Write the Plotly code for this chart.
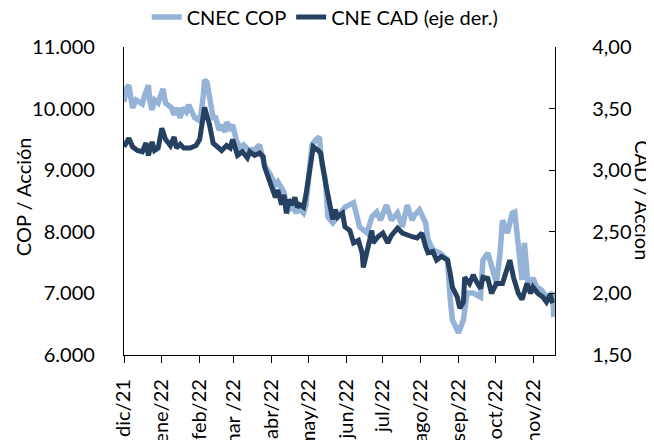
import plotly.graph_objects as go

# CNEC COP series (COP / acción)
cop_dates = [
    "2021-12-01", "2021-12-03", "2021-12-05", "2021-12-07", "2021-12-08", "2021-12-11", "2021-12-13",
    "2021-12-16", "2021-12-18", "2021-12-21", "2021-12-22", "2021-12-24", "2021-12-26", "2021-12-29",
    "2021-12-31", "2022-01-02", "2022-01-04", "2022-01-07", "2022-01-09", "2022-01-11", "2022-01-13",
    "2022-01-16", "2022-01-18", "2022-01-21", "2022-01-23", "2022-01-26", "2022-01-28", "2022-01-31",
    "2022-02-02", "2022-02-04", "2022-02-05", "2022-02-07", "2022-02-09", "2022-02-10", "2022-02-12",
    "2022-02-14", "2022-02-17", "2022-02-19", "2022-02-22", "2022-02-23", "2022-02-26", "2022-02-28",
    "2022-03-03", "2022-03-06", "2022-03-09", "2022-03-13", "2022-03-18", "2022-03-22", "2022-03-26",
    "2022-03-31", "2022-04-04", "2022-04-06", "2022-04-09", "2022-04-11", "2022-04-13", "2022-04-15",
    "2022-04-18", "2022-04-21", "2022-04-23", "2022-04-25", "2022-04-27", "2022-04-29", "2022-05-02",
    "2022-05-04", "2022-05-07", "2022-05-10", "2022-05-12", "2022-05-15", "2022-05-17", "2022-05-21",
    "2022-05-25", "2022-05-31", "2022-06-07", "2022-06-10", "2022-06-12", "2022-06-15", "2022-06-18",
    "2022-06-22", "2022-06-26", "2022-06-29", "2022-07-04", "2022-07-08", "2022-07-13", "2022-07-17",
    "2022-07-21", "2022-07-25", "2022-07-27", "2022-07-31", "2022-08-05", "2022-08-07", "2022-08-11",
    "2022-08-17", "2022-08-23", "2022-08-25", "2022-08-27", "2022-09-01", "2022-09-05", "2022-09-08",
    "2022-09-13", "2022-09-19", "2022-09-21", "2022-09-25", "2022-09-28", "2022-10-02", "2022-10-05",
    "2022-10-07", "2022-10-11", "2022-10-15", "2022-10-17", "2022-10-20", "2022-10-23", "2022-10-25",
    "2022-10-28", "2022-11-01", "2022-11-04", "2022-11-08", "2022-11-12", "2022-11-17", "2022-11-18",
]
cop_values = [
    10110, 10330, 10380, 10140, 10010, 10140, 10120,
    10075, 10220, 10380, 10140, 9980, 10140, 10090,
    10220, 10320, 10090, 10040, 10010, 9900, 10010,
    9850, 10010, 9945, 10060, 9930, 9850, 9815,
    9900, 10220, 10465, 10430, 10140, 9980, 9850,
    9850, 9650, 9735, 9620, 9780, 9685, 9735,
    9490, 9360, 9410, 9330, 9330, 9410, 9085,
    8920, 8760, 8810, 8680, 8645, 8435, 8355,
    8435, 8305, 8385, 8355, 8305, 8435, 8920,
    9410, 9490, 9540, 9115, 8840, 8240, 8145,
    8240, 8400, 8470, 8240, 8080, 8030, 7980,
    8240, 8320, 8190, 8435, 8190, 8305, 8080,
    8435, 8190, 8270, 8355, 8145, 7870, 7705,
    7655, 7540, 6940, 6570, 6360, 6570, 7005,
    7005, 6940, 7540, 7655, 7430, 7170, 7655,
    8190, 7980, 8305, 8320, 7655, 7220, 7820,
    7105, 7250, 7105, 7055, 6940, 7005, 6615,
]

# CNE CAD series (CAD / acción, eje derecho)
cad_dates = [
    "2021-12-01", "2021-12-05", "2021-12-08", "2021-12-12", "2021-12-16", "2021-12-19", "2021-12-21",
    "2021-12-24", "2021-12-26", "2021-12-29", "2022-01-01", "2022-01-04", "2022-01-08", "2022-01-11",
    "2022-01-13", "2022-01-16", "2022-01-19", "2022-01-24", "2022-01-29", "2022-02-01", "2022-02-05",
    "2022-02-09", "2022-02-12", "2022-02-16", "2022-02-19", "2022-02-23", "2022-02-26", "2022-02-28",
    "2022-03-04", "2022-03-08", "2022-03-12", "2022-03-14", "2022-03-18", "2022-03-22", "2022-03-25",
    "2022-03-26", "2022-03-29", "2022-04-01", "2022-04-04", "2022-04-06", "2022-04-09", "2022-04-11",
    "2022-04-13", "2022-04-15", "2022-04-18", "2022-04-20", "2022-04-22", "2022-04-24", "2022-04-27",
    "2022-04-29", "2022-05-02", "2022-05-05", "2022-05-09", "2022-05-11", "2022-05-15", "2022-05-19",
    "2022-05-21", "2022-05-23", "2022-05-25", "2022-05-29", "2022-05-31", "2022-06-04", "2022-06-07",
    "2022-06-11", "2022-06-14", "2022-06-15", "2022-06-18", "2022-06-22", "2022-06-23", "2022-06-27",
    "2022-07-01", "2022-07-05", "2022-07-08", "2022-07-13", "2022-07-17", "2022-07-21", "2022-07-25",
    "2022-07-29", "2022-08-02", "2022-08-05", "2022-08-07", "2022-08-11", "2022-08-14", "2022-08-18",
    "2022-08-23", "2022-08-25", "2022-08-27", "2022-08-31", "2022-09-02", "2022-09-05", "2022-09-06",
    "2022-09-10", "2022-09-13", "2022-09-16", "2022-09-19", "2022-09-21", "2022-09-25", "2022-09-28",
    "2022-10-02", "2022-10-07", "2022-10-11", "2022-10-13", "2022-10-16", "2022-10-20", "2022-10-23",
    "2022-10-27", "2022-10-30", "2022-11-01", "2022-11-05", "2022-11-09", "2022-11-12", "2022-11-15",
    "2022-11-17",
]
cad_values = [
    3.19, 3.26, 3.19, 3.16, 3.15, 3.22, 3.12,
    3.23, 3.16, 3.18, 3.34, 3.25, 3.20, 3.27,
    3.18, 3.21, 3.18, 3.18, 3.20, 3.25, 3.51,
    3.37, 3.22, 3.18, 3.16, 3.20, 3.18, 3.25,
    3.12, 3.15, 3.10, 3.15, 3.12, 3.14, 3.11,
    3.03, 2.95, 2.86, 2.78, 2.84, 2.72, 2.80,
    2.65, 2.76, 2.72, 2.78, 2.70, 2.72, 2.70,
    2.80, 2.98, 3.19, 3.16, 3.14, 2.90, 2.70,
    2.60, 2.68, 2.62, 2.65, 2.54, 2.51, 2.41,
    2.43, 2.33, 2.21, 2.33, 2.51, 2.41, 2.46,
    2.49, 2.41, 2.47, 2.53, 2.49, 2.47, 2.46,
    2.45, 2.49, 2.38, 2.33, 2.34, 2.27, 2.30,
    2.27, 2.17, 2.05, 1.97, 1.88, 1.93, 2.13,
    2.08, 2.15, 2.09, 2.04, 2.13, 2.12, 2.00,
    2.08, 2.08, 2.21, 2.27, 2.13, 2.00, 1.95,
    2.08, 2.00, 2.05, 2.00, 1.97, 1.93, 1.99,
    1.92,
]

month_ticks = [
    "2021-12-01", "2022-01-01", "2022-02-01", "2022-03-01", "2022-04-01", "2022-05-01",
    "2022-06-01", "2022-07-01", "2022-08-01", "2022-09-01", "2022-10-01", "2022-11-01",
]
month_labels = [
    "dic/21", "ene/22", "feb/22", "mar /22", "abr/22", "may/22",
    "jun/22", "jul/22", "ago/22", "sep/22", "oct/22", "nov/22",
]

FONT = "Lato, Carlito, Calibri, 'Liberation Sans', sans-serif"
LIGHT = "#95B3D7"
DARK = "#254061"

fig = go.Figure()
fig.add_trace(go.Scatter(
    x=cop_dates, y=cop_values, name="CNEC COP", mode="lines",
    line=dict(color=LIGHT, width=5.5), yaxis="y",
))
fig.add_trace(go.Scatter(
    x=cad_dates, y=cad_values, name="CNE CAD (eje der.)", mode="lines",
    line=dict(color=DARK, width=5), yaxis="y2",
))

# the page body adds an 8px offset at top-left, so the figure is 8px smaller
fig.update_layout(
    width=646, height=432,
    margin=dict(l=116, r=99, t=39, b=85, autoexpand=False),
    paper_bgcolor="white", plot_bgcolor="white",
    font=dict(family=FONT, size=20, color="#000000"),
    separators=",.",
    showlegend=True,
    legend=dict(
        orientation="h", xref="container", yref="container",
        x=0.491, xanchor="center", y=0.979, yanchor="middle",
        font=dict(size=20), bgcolor="rgba(0,0,0,0)",
    ),
    xaxis=dict(
        type="date", range=["2021-12-01", "2022-11-19"],
        tickvals=month_ticks, ticktext=month_labels, tickangle=-90,
        ticks="outside", ticklen=7, tickcolor="#000", tickwidth=1.3,
        showline=True, linecolor="#000", linewidth=1.3,
        showgrid=False, zeroline=False, automargin=False,
        ticklabelstandoff=8,
    ),
    yaxis=dict(
        range=[6000, 11000], tickvals=[6000, 7000, 8000, 9000, 10000, 11000],
        tickformat=",.0f", ticks="", showline=True, linecolor="#000", linewidth=1.3,
        showgrid=False, zeroline=False, ticklabelstandoff=24, automargin=False,
    ),
    yaxis2=dict(
        range=[1.5, 4.0], tickvals=[1.5, 2.0, 2.5, 3.0, 3.5, 4.0],
        tickformat=".2f", overlaying="y", side="right",
        ticks="inside", ticklen=6, tickcolor="#000", tickwidth=1.3,
        showline=True, linecolor="#000", linewidth=1.3,
        showgrid=False, zeroline=False, ticklabelstandoff=32, automargin=False,
    ),
    annotations=[
        dict(text="COP / Acción", xref="paper", yref="paper", x=-0.234, y=0.513,
             xanchor="center", yanchor="middle", textangle=-90, showarrow=False,
             font=dict(size=20)),
        dict(text="CAD / Acción", xref="paper", yref="paper", x=1.204, y=0.503,
             xanchor="center", yanchor="middle", textangle=90, showarrow=False,
             font=dict(size=20)),
    ],
)

fig.write_html("out.html")
